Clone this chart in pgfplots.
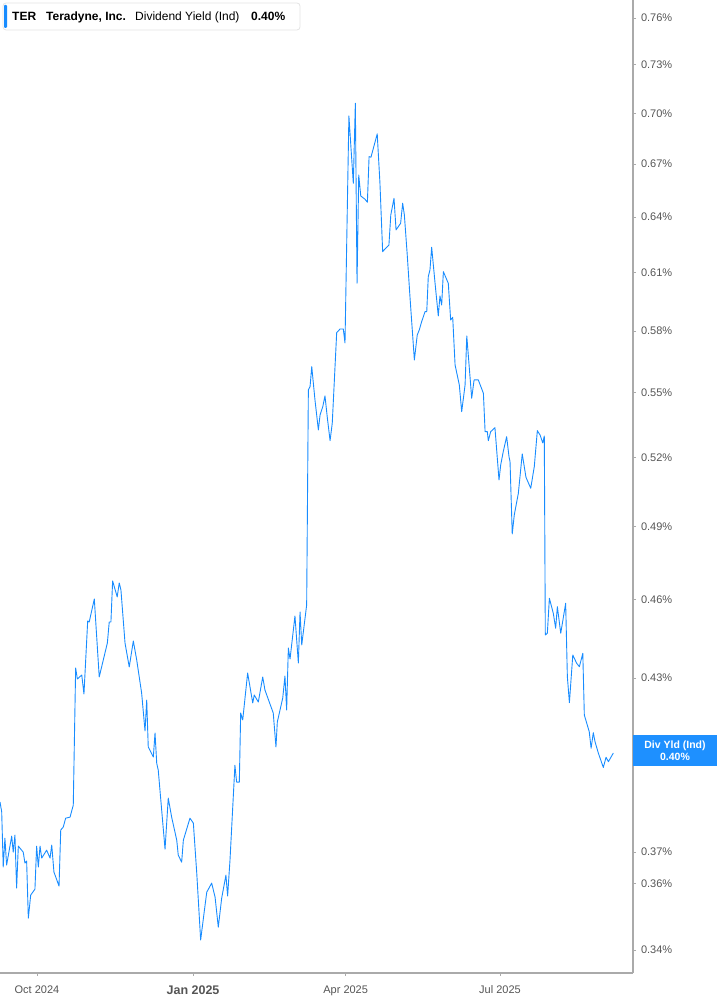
\documentclass[border=0pt]{standalone}
\usepackage{pgfplots}
\pgfplotsset{compat=1.18}
\usepackage{fontspec}
\setmainfont{Liberation Sans}
\definecolor{lineblue}{RGB}{24,140,255}
\definecolor{axgray}{RGB}{170,170,170}
\definecolor{lblgray}{RGB}{85,85,85}
\definecolor{boxblue}{RGB}{30,144,255}
\definecolor{boxedge}{RGB}{228,228,228}
\pgfplotstableread{
day yld
-21.8 0.38643
-20.8 0.38311
-19.9 0.36525
-18.9 0.37451
-17.9 0.36588
-14.9 0.37516
-14.0 0.37001
-13.0 0.37548
-12.0 0.35869
-11.0 0.37193
-8.1 0.37001
-7.1 0.36651
-6.1 0.36715
-5.1 0.34952
-3.7 0.35653
-1.2 0.35838
-0.2 0.37193
0.8 0.36525
1.8 0.37193
2.8 0.36810
5.7 0.37065
7.7 0.36810
8.7 0.37225
10.0 0.36368
13.0 0.35931
14.0 0.37711
15.5 0.37808
16.9 0.38103
19.5 0.38136
21.4 0.38533
22.8 0.43369
23.8 0.42960
26.4 0.43108
27.7 0.42407
29.9 0.45165
30.8 0.45126
33.8 0.46031
36.7 0.43034
41.5 0.44316
42.6 0.45126
43.6 0.45126
44.6 0.46752
47.3 0.46111
48.5 0.46671
49.5 0.46390
51.9 0.44316
54.4 0.43407
56.8 0.44392
58.8 0.43670
61.7 0.42444
63.7 0.41074
64.7 0.42188
65.6 0.40511
68.6 0.40163
69.6 0.41004
70.6 0.39955
71.5 0.39715
75.5 0.37097
77.4 0.38766
79.4 0.38136
82.4 0.37386
83.3 0.36905
85.3 0.36683
86.3 0.37386
90.2 0.38103
92.2 0.37939
94.2 0.36336
96.5 0.34295
98.5 0.35103
100.1 0.35745
103.0 0.36024
105.0 0.35592
106.9 0.34682
108.9 0.35561
111.4 0.36274
112.4 0.35622
113.8 0.36747
116.7 0.39886
117.7 0.39305
119.3 0.39305
120.1 0.41717
121.3 0.41466
124.2 0.43183
127.2 0.42079
128.1 0.42370
130.5 0.42115
133.1 0.43034
134.4 0.42554
139.3 0.41717
140.9 0.40511
141.7 0.41395
144.9 0.42261
146.2 0.43071
147.2 0.41825
148.2 0.44125
149.2 0.43707
152.1 0.45361
154.1 0.43557
155.1 0.45518
156.1 0.44240
159.0 0.45793
160.0 0.55131
161.0 0.55288
162.0 0.56251
163.9 0.54657
165.9 0.53260
166.9 0.53954
168.5 0.54342
169.8 0.54846
171.2 0.53814
172.8 0.52770
174.1 0.53583
176.7 0.57926
178.7 0.58111
180.6 0.58111
181.6 0.57413
183.9 0.69840
186.5 0.65899
187.7 0.70610
188.7 0.60449
189.7 0.66373
190.9 0.65181
193.4 0.64995
194.8 0.64827
195.8 0.67430
196.9 0.67395
200.6 0.68764
202.2 0.65916
203.8 0.62120
205.6 0.62303
207.5 0.62480
208.6 0.64120
210.5 0.65051
211.7 0.63295
214.4 0.63662
215.6 0.64771
216.6 0.64120
218.3 0.61944
219.9 0.59754
222.5 0.56578
224.2 0.57811
225.4 0.58061
226.8 0.58479
228.8 0.58986
229.8 0.58986
230.7 0.60794
231.7 0.61147
232.7 0.62357
234.7 0.60449
236.6 0.58767
237.6 0.59790
238.6 0.59328
239.6 0.61057
242.5 0.60449
243.9 0.58565
245.1 0.58701
246.5 0.56334
249.0 0.55370
250.4 0.54108
252.4 0.55370
253.4 0.57762
255.3 0.55768
256.3 0.54737
257.7 0.55609
260.2 0.55609
263.2 0.54974
264.2 0.53182
265.5 0.53182
266.1 0.52770
267.5 0.53182
270.0 0.53365
272.4 0.51009
273.4 0.51674
274.9 0.52271
276.9 0.52953
278.3 0.52045
278.9 0.51821
280.2 0.48686
281.4 0.49491
283.8 0.50427
286.1 0.52167
288.3 0.51128
291.1 0.50645
293.2 0.51598
295.0 0.53228
296.6 0.53030
298.2 0.52666
299.1 0.52985
299.7 0.44623
300.9 0.44688
302.1 0.46059
304.4 0.45467
305.8 0.44882
306.8 0.45727
308.8 0.44688
311.7 0.45861
312.7 0.43045
313.9 0.42090
315.9 0.43859
318.2 0.43546
319.8 0.43418
321.8 0.43923
322.7 0.41645
325.6 0.41050
326.7 0.40466
328.0 0.41014
329.0 0.40697
331.0 0.40291
333.9 0.39808
335.5 0.40153
336.9 0.40000
339.8 0.40300
}\dyield
\begin{document}
\begin{tikzpicture}[x=1pt,y=1pt]
\useasboundingbox (0,0) rectangle (717,1005);
\begin{axis}[
  at={(0pt,32pt)}, anchor=south west,
  scale only axis, width=633pt, height=973pt,
  xmin=-21.8, xmax=351.4,
  ymode=log, ymin=0.33335, ymax=0.77196,
  axis x line*=bottom, axis y line*=right,
  axis line style={-, axgray, line width=1.2pt},
  tick align=outside,
  major tick length=3pt,
  tick style={axgray, line width=0.8pt},
  xtick={0,92,182,273},
  xticklabels={Oct 2024,{\raisebox{-2pt}{\fontsize{12.5}{14}\selectfont\bfseries Jan 2025}},Apr 2025,Jul 2025},
  xticklabel style={font=\fontsize{11}{13}\selectfont, text=lblgray, yshift=-6pt},
  ytick={0.34,0.36,0.37,0.43,0.46,0.49,0.52,0.55,0.58,0.61,0.64,0.67,0.70,0.73,0.76},
  yticklabels={0.34\%,0.36\%,0.37\%,0.43\%,0.46\%,0.49\%,0.52\%,0.55\%,0.58\%,0.61\%,0.64\%,0.67\%,0.70\%,0.73\%,0.76\%},
  yticklabel style={font=\fontsize{11}{13}\selectfont, text=lblgray, xshift=1.5pt},
  minor tick num=0,
  clip=true,
]
\addplot[lineblue, line width=0.9pt, line join=round] table[x=day, y=yld] {\dyield};
\end{axis}
% header box
\draw[boxedge, fill=white, rounded corners=3pt, line width=0.8pt] (3,1002) rectangle (300,975);
\fill[lineblue, rounded corners=1pt] (4,1000) rectangle (7,977);
\node[anchor=base west, inner sep=0pt, font=\bfseries\fontsize{12}{14}\selectfont] at (12,984) {TER};
\node[anchor=base west, inner sep=0pt, font=\bfseries\fontsize{12}{14}\selectfont] at (46,984) {Teradyne, Inc.};
\node[anchor=base west, inner sep=0pt, font=\fontsize{12}{14}\selectfont] at (135,984) {Dividend Yield (Ind)};
\node[anchor=base west, inner sep=0pt, font=\bfseries\fontsize{12}{14}\selectfont] at (251,984) {0.40\%};
% last value label
\fill[boxblue] (633,270) rectangle (717,239);
\node[anchor=base, inner sep=0pt, text=white, font=\bfseries\fontsize{10.5}{12}\selectfont] at (675,256) {Div Yld (Ind)};
\node[anchor=base, inner sep=0pt, text=white, font=\bfseries\fontsize{10.5}{12}\selectfont] at (675,244) {0.40\%};
\end{tikzpicture}
\end{document}
